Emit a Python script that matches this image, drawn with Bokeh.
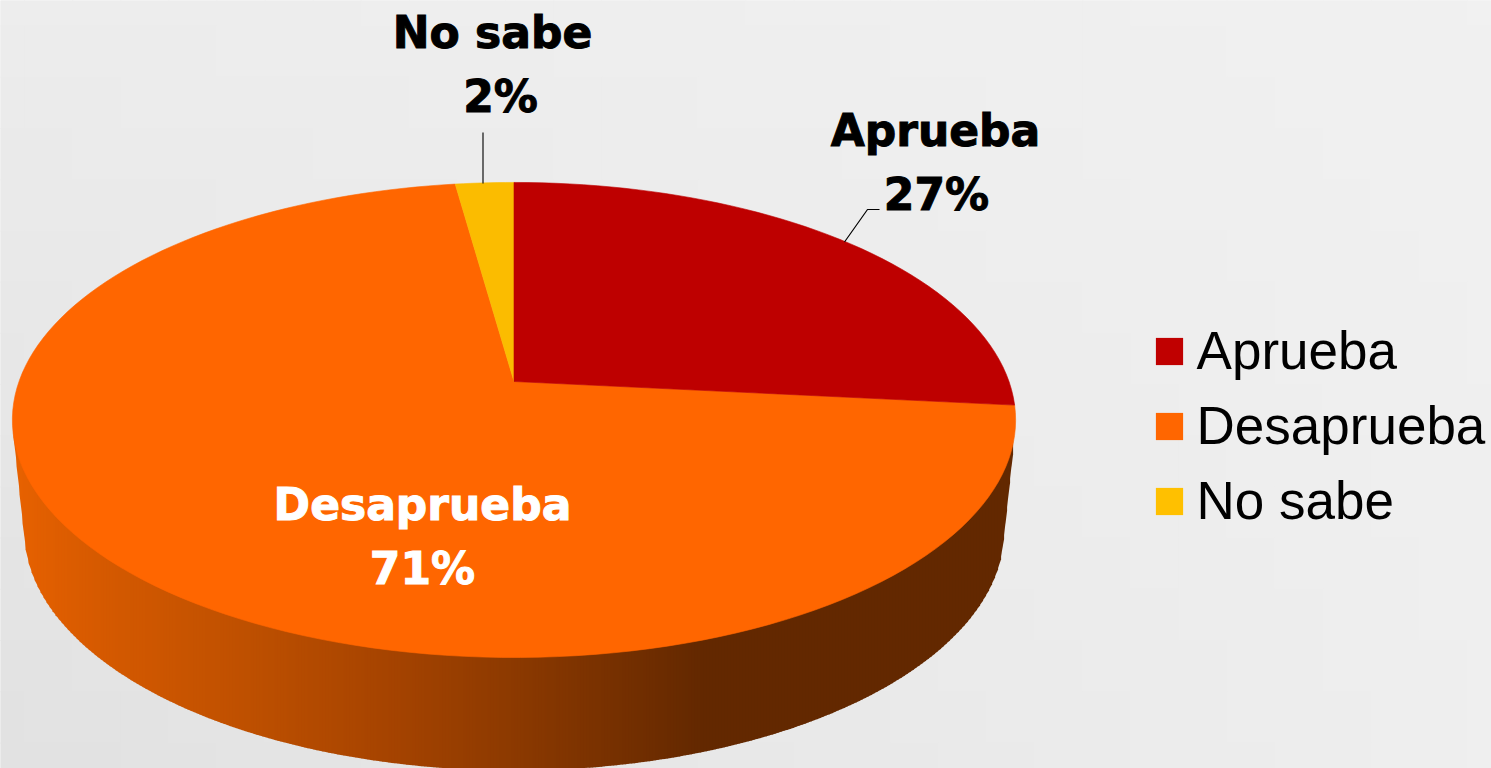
import numpy as np
from bokeh.core.properties import value
from bokeh.embed import file_html
from bokeh.models import Legend, LegendItem, Range1d
from bokeh.plotting import figure
from bokeh.resources import INLINE

# ---- data ----
categories = ["Aprueba", "Desaprueba", "No sabe"]
shares = [26.6, 71.2, 2.2]
slice_colors = ["#BE0000", "#FF6600", "#FBBC00"]
legend_colors = ["#C00000", "#FF6600", "#FFC000"]

# ---- pie geometry (projected disc) ----
CX, APEX_Y, A, B, K = 513.5, 381.0, 495.0, 231.3, 0.162
BOT_CY, BOT_RX, BOT_RY = 530.0, 490.0, 240.0
side_stops_x = [12, 100, 250, 400, 500, 600, 700, 1020]
side_stops_rgb = [(232, 98, 0), (214, 90, 0), (190, 80, 0), (164, 67, 0),
                  (143, 59, 0), (122, 50, 0), (100, 41, 0), (99, 40, 0)]

W, H = 1491, 768
p = figure(width=W, height=H, output_backend="svg", toolbar_location=None,
           x_range=Range1d(0, W), y_range=Range1d(H, 0),
           min_border=0, outline_line_color=None, border_fill_color=None,
           background_fill_color="#EEEEEE")
p.axis.visible = False
p.grid.visible = False

# page background: soft grey gradient
gx = np.linspace(0, 1, 32)
gy = np.linspace(0, 1, 16)
fx, fy = np.meshgrid(gx, gy)
tl, tr, bl, br = 0xED, 0xF1, 0xE2, 0xEF
grey = (tl * (1 - fx) * (1 - fy) + tr * fx * (1 - fy) + bl * (1 - fx) * fy + br * fx * fy)
cw, ch = W / 31, H / 15
bg = ["#%02x%02x%02x" % (int(g), int(g), int(g)) for g in grey.ravel()]
p.rect(x=fx.ravel() * W, y=fy.ravel() * H, width=cw + 1, height=ch + 1,
       fill_color=bg, line_color=None)

# side wall, drawn as narrow vertical strips under the top face
edges = np.arange(13, 1015, 3.0)
def bottom_edge(x):
    t = np.clip((x - CX) / BOT_RX, -1, 1)
    y = BOT_CY + BOT_RY * np.sqrt(1 - t * t)
    y = np.where(x < 25, 437 + (x - 13) * (551 - 437) / 12, y)
    y = np.where(x > 1002, 435 + (1014 - x) * (548 - 435) / 12, y)
    return y
sxs, sys, scols = [], [], []
for x0, x1 in zip(edges[:-1], edges[1:]):
    sxs.append([x0, x1 + 0.6, x1 + 0.6, x0])
    sys.append([420, 420, float(bottom_edge(np.array(x1))), float(bottom_edge(np.array(x0)))])
    rgb = [np.interp((x0 + x1) / 2, side_stops_x, [c[i] for c in side_stops_rgb]) for i in range(3)]
    scols.append("#%02x%02x%02x" % tuple(int(v) for v in rgb))
p.patches(sxs, sys, fill_color=scols, line_color=None)

# top face slices, from the shares
def slice_path(start, stop):
    th = np.radians(np.linspace(start, stop, max(int(stop - start) * 2, 8)) * 3.6)
    u, v = np.sin(th), np.cos(th)
    d = 1 + K * v
    xs = CX + A * u / d
    ys = APEX_Y - B * v / d
    return [CX, *xs, CX], [APEX_Y, *ys, APEX_Y]

order = [1, 2, 0]
starts = np.concatenate([[0], np.cumsum(shares)[:-1]])
for i in order:
    xs, ys = slice_path(starts[i], starts[i] + shares[i])
    p.patch(xs, ys, fill_color=slice_colors[i], line_color=slice_colors[i], line_width=0.6)

# leader lines
p.line([482.5, 482.5], [132, 183], line_color="#111111", line_width=1.2)
p.line([844, 867, 879], [241.5, 209, 209], line_color="#000000", line_width=1.2)

# data labels
font = value("DejaVu Sans")
lab = [f"{round(s)}%" for s in shares]
def label(x, y, t, color):
    p.text([x], [y], text=[t], text_font=font, text_font_size="44px", text_font_style="bold",
           text_color=color, text_outline_color=color, text_align="center", text_baseline="alphabetic")
label(492, 32, categories[2], "#000000")
label(500, 96, lab[2], "#000000")
label(935, 130, categories[0], "#000000")
label(936, 194, lab[0], "#000000")
label(422, 504, categories[1], "#FFFFFF")
label(422, 568, lab[1], "#FFFFFF")

# legend
items = [LegendItem(label=categories[i],
                    renderers=[p.patch([-100, -90, -90], [-100, -100, -90],
                                       fill_color=legend_colors[i], line_color=None)]) for i in range(3)]
legend = Legend(items=items, location=(1151.6, 237), padding=0, margin=0, spacing=14,
                glyph_width=34, glyph_height=34, label_standoff=11,
                label_text_font="Liberation Sans", label_text_font_size="53px",
                label_text_color="#000000", background_fill_alpha=0, border_line_color=None)
p.add_layout(legend, "center")

open("out.html", "w").write(file_html(p, INLINE))
